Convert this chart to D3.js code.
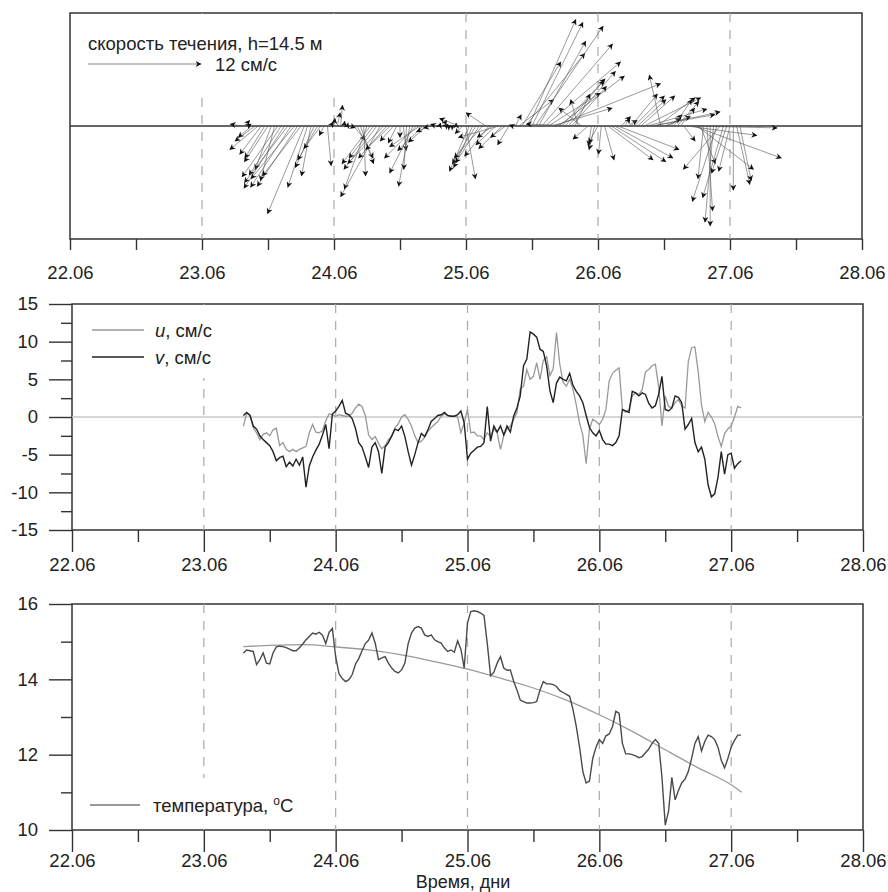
<!DOCTYPE html>
<html>
<head>
<meta charset="utf-8">
<script src="https://cdn.jsdelivr.net/npm/d3@7"></script>
<style>
  body { margin: 0; background: #fff; }
  svg { display: block; font-family: "Liberation Sans", Arial, sans-serif; }
</style>
</head>
<body>
<svg id="chart" width="888" height="892"></svg>
<script>
// --- data: current meter record, one sample every 0.025 day (36 min) ---
const T_START = 23.3;   // 23.06, 07:12
const T_STEP = 0.025;

// u component, cm/s
const uVals = [
  -1.2, 0.5, 0.3, -1.4, -2.1, -3.0, -2.3, -2.1, -2.5, -1.7,
  -1.5, -3.8, -3.4, -4.3, -4.6, -4.3, -4.6, -4.3, -4.1, -3.9,
  -2.1, -1.0, -2.0, -2.1, -1.8, -0.5, 0.4, 0.3, 0.1, 0.3,
  0.2, 0.1, 0.1, 0.5, 1.2, 1.7, 1.4, 0.2, -2.4, -3.0,
  -2.6, -3.5, -4.2, -3.8, -3.0, -2.6, -1.4, -0.9, 0.0, 0.3,
  -0.3, -1.2, -2.5, -3.4, -3.2, -2.7, -1.9, -1.4, -1.0, -0.6,
  0.1, 0.4, 0.2, 0.1, 0.1, 0.0, -2.1, -0.8, 1.0, -2.1,
  -2.0, -2.5, -2.5, -3.0, -2.1, -2.6, -1.6, -2.1, -4.3, -2.5,
  -1.6, -1.2, -0.3, 0.6, 3.7, 4.1, 6.3, 5.0, 5.4, 7.2,
  5.0, 7.5, 8.0, 5.5, 6.4, 11.2, 7.0, 4.6, 4.1, 5.0,
  3.7, 1.6, -0.8, -2.4, -6.2, -1.6, -0.3, -0.6, -1.0, -0.3,
  1.0, 4.8, 5.8, 6.2, 6.5, 1.0, 0.6, 1.0, 2.8, 3.2,
  3.0, 3.6, 6.0, 6.3, 6.8, 7.0, 4.0, -1.2, 2.8, 1.4,
  1.2, 1.9, 2.3, 1.5, 1.2, 7.4, 9.2, 9.3, 6.0, 1.6,
  -0.6, 0.6, 0.0, -0.9, -2.6, -3.9, -2.2, -1.6, -1.2, 0.0,
  1.4, 1.2
];

// v component, cm/s
const vVals = [
  0.2, 0.6, 0.2, -1.2, -1.6, -2.5, -3.0, -3.4, -3.8, -4.6,
  -5.8, -5.4, -5.2, -6.6, -6.0, -6.5, -5.6, -6.4, -5.3, -9.3,
  -6.5, -5.3, -4.4, -3.6, -2.4, -1.0, -4.2, 0.4, 0.8, 1.4,
  2.2, 0.5, 0.3, -0.2, -1.5, -3.4, -4.0, -5.3, -6.7, -4.0,
  -3.4, -4.6, -7.5, -4.0, -3.4, -2.5, -1.6, -1.8, -1.2, -2.6,
  -4.6, -6.4, -5.0, -3.4, -2.2, -2.6, -1.7, -0.6, -0.2, 0.2,
  0.3, 0.6, 0.2, 0.1, 0.1, 0.3, 0.8, -0.8, -5.6, -4.8,
  -4.4, -4.0, -3.9, -3.4, 1.4, -3.2, -1.2, -2.0, -1.2, -2.4,
  -1.2, -2.0, 0.1, 1.2, 2.8, 6.8, 7.7, 11.3, 11.0, 10.6,
  9.0, 8.7, 6.8, 3.5, 1.9, 4.5, 5.3, 5.0, 4.8, 5.8,
  4.2, 3.4, 2.8, 1.9, 0.2, -1.4, -2.1, -2.5, -1.8, -3.0,
  -3.6, -3.6, -3.8, -3.4, -2.5, 1.0, 0.8, 0.6, 3.4, 3.2,
  2.8, 3.2, 3.0, 1.8, 1.2, 1.5, 3.0, 5.4, 1.0, 0.8,
  1.2, 2.8, 2.6, 1.9, -1.6, -1.0, -0.2, -3.4, -4.6, -4.0,
  -5.6, -9.0, -10.6, -10.2, -8.0, -4.6, -7.6, -5.0, -4.8, -6.8,
  -6.2, -5.8
];

// water temperature, deg C
const tempVals = [
  14.7, 14.78, 14.76, 14.74, 14.39, 14.52, 14.7, 14.43, 14.41, 14.7,
  14.86, 14.88, 14.87, 14.84, 14.8, 14.76, 14.76, 14.84, 14.94, 15.05,
  15.14, 15.23, 15.2, 15.25, 15.17, 14.95, 15.25, 15.35, 14.6, 14.15,
  14.02, 13.94, 13.99, 14.12, 14.4, 14.55, 14.76, 14.95, 15.04, 15.23,
  14.96, 14.52, 14.57, 14.6, 14.43, 14.3, 14.21, 14.17, 14.25, 14.43,
  14.95, 15.23, 15.36, 15.4, 15.36, 15.18, 15.14, 15.18, 15.05, 15.0,
  14.96, 14.83, 14.74, 14.78, 14.72, 15.02, 14.8, 14.3, 15.5, 15.8,
  15.82, 15.8, 15.76, 15.7, 14.95, 14.1, 14.19, 14.43, 14.6, 14.3,
  14.24, 14.25, 13.95, 13.72, 13.45, 13.41, 13.37, 13.37, 13.38, 13.41,
  13.72, 13.94, 13.88, 13.88, 13.86, 13.81, 13.7, 13.65, 13.6, 13.55,
  13.2, 12.75, 12.2, 11.55, 11.25, 11.3, 11.9, 12.2, 12.4, 12.3,
  12.5, 12.55, 12.75, 13.15, 13.1, 12.3, 12.02, 12.02, 12.0, 11.97,
  11.92, 11.95, 12.05, 12.15, 12.3, 12.4, 12.3, 11.4, 10.13, 10.5,
  11.4, 10.8, 11.05, 11.25, 11.35, 11.55, 11.9, 12.3, 12.48, 12.1,
  12.35, 12.52, 12.48, 12.4, 12.2, 11.85, 11.65, 11.9, 12.2, 12.38,
  12.52, 12.52
];

// smooth trend of temperature
const trendDays = [23.3, 23.5, 23.75, 24.0, 24.25, 24.5, 24.75, 25.0, 25.25, 25.5, 25.75, 26.0, 26.25, 26.5, 26.75, 27.0, 27.08];
const trendVals = [14.87, 14.9, 14.92, 14.86, 14.78, 14.65, 14.47, 14.27, 14.03, 13.77, 13.45, 13.06, 12.62, 12.13, 11.65, 11.2, 11.0];

// axes
const dayTicks = [22, 23, 24, 25, 26, 27, 28];
const halfDayTicks = [22.5, 23.5, 24.5, 25.5, 26.5, 27.5];
const dashedDays = [23, 24, 25, 26, 27];
const uvTicks = [-15, -10, -5, 0, 5, 10, 15];
const uvMinorTicks = [-12.5, -7.5, -2.5, 2.5, 7.5, 12.5];
const tempTicks = [10, 12, 14, 16];
const tempMinorTicks = [11, 13, 15];
const REF_SPEED = 12; // cm/s, legend arrow

const days = uVals.map((_, i) => T_START + i * T_STEP);

const svg = d3.select("#chart");
const FONT = 18.5;
const frameColor = "#333";

const defs = svg.append("defs");
defs.append("marker")
  .attr("id", "head")
  .attr("viewBox", "0 0 10 10")
  .attr("refX", 9).attr("refY", 5)
  .attr("markerWidth", 7).attr("markerHeight", 6)
  .attr("markerUnits", "userSpaceOnUse")
  .attr("orient", "auto")
  .append("path")
  .attr("d", "M0,0 L10,5 L0,10 L3,5 z")
  .attr("fill", "#111");

// --- helpers ---
function frame(x, y) {
  const [x0, x1] = x.range();
  const [y1, y0] = y.range();
  svg.append("rect")
    .attr("x", x0).attr("y", y0)
    .attr("width", x1 - x0).attr("height", y1 - y0)
    .attr("fill", "none")
    .attr("stroke", frameColor)
    .attr("stroke-width", 1.5);
}

function dashed(x, y) {
  const [y1, y0] = y.range();
  svg.append("g").selectAll("line")
    .data(dashedDays)
    .join("line")
    .attr("x1", d => x(d)).attr("x2", d => x(d))
    .attr("y1", y0).attr("y2", y1)
    .attr("stroke", "#aaa")
    .attr("stroke-width", 1.2)
    .attr("stroke-dasharray", "9,8");
}

function styleAxis(g) {
  g.select(".domain").remove();
  g.selectAll(".tick line").attr("stroke", frameColor).attr("stroke-width", 1.4);
  g.selectAll("text")
    .attr("fill", "#222")
    .attr("font-size", FONT)
    .attr("font-family", "'Liberation Sans', Arial, sans-serif");
}

function xAxis(x, yPos, majorLen, minorLen, pad) {
  svg.append("g")
    .attr("transform", `translate(0,${yPos})`)
    .call(d3.axisBottom(x).tickValues(halfDayTicks).tickSize(minorLen).tickFormat(""))
    .call(styleAxis);
  svg.append("g")
    .attr("transform", `translate(0,${yPos})`)
    .call(d3.axisBottom(x).tickValues(dayTicks).tickSize(majorLen).tickPadding(pad)
      .tickFormat(d => d + ".06"))
    .call(styleAxis);
}

function yAxis(y, xPos, major, minor) {
  svg.append("g")
    .attr("transform", `translate(${xPos},0)`)
    .call(d3.axisLeft(y).tickValues(minor).tickSize(11).tickFormat(""))
    .call(styleAxis);
  svg.append("g")
    .attr("transform", `translate(${xPos},0)`)
    .call(d3.axisLeft(y).tickValues(major).tickSize(23).tickPadding(11)
      .tickFormat(d => String(d)))   // plain hyphen, no decimals
    .call(styleAxis);
}

function whiteBox(x, y, w, h) {
  svg.append("rect")
    .attr("x", x).attr("y", y).attr("width", w).attr("height", h)
    .attr("fill", "#fff");
}

// ---- PANEL 1: stick plot ----
const xTop = d3.scaleLinear().domain([22, 28]).range([70, 862]);
const yTop = d3.scaleLinear().domain([-1, 1]).range([239, 13]);
const vec = d3.scaleLinear().domain([0, REF_SPEED]).range([0, 113]);
const y0Top = yTop(0);

frame(xTop, yTop);
dashed(xTop, yTop);
whiteBox(71, 14, 274, 76);

svg.append("line")
  .attr("x1", xTop.range()[0]).attr("x2", xTop.range()[1])
  .attr("y1", y0Top).attr("y2", y0Top)
  .attr("stroke", frameColor)
  .attr("stroke-width", 1.5);

const sticks = days.map((t, i) => ({ t, u: uVals[i], v: vVals[i] }));

svg.append("g").selectAll("line")
  .data(sticks)
  .join("line")
  .attr("x1", d => xTop(d.t))
  .attr("y1", y0Top)
  .attr("x2", d => xTop(d.t) + vec(d.u))
  .attr("y2", d => y0Top - vec(d.v))
  .attr("stroke", "#555")
  .attr("stroke-width", 0.6)
  .attr("marker-end", "url(#head)");

xAxis(xTop, 239, 11, 11, 16);

svg.append("text")
  .attr("x", 88).attr("y", 49.5)
  .attr("font-size", FONT).attr("fill", "#222")
  .text("скорость течения, h=14.5 м");
svg.append("line")
  .attr("x1", 88).attr("x2", 88 + vec(REF_SPEED))
  .attr("y1", 64).attr("y2", 64)
  .attr("stroke", "#666").attr("stroke-width", 0.8)
  .attr("marker-end", "url(#head)");
svg.append("text")
  .attr("x", 215).attr("y", 70.5)
  .attr("font-size", FONT).attr("fill", "#222")
  .text(REF_SPEED + " см/с");

// ---- PANEL 2: u, v ----
const xMid = d3.scaleLinear().domain([22, 28]).range([72, 863]);
const yMid = d3.scaleLinear().domain([-15, 15]).range([530, 304]);

frame(xMid, yMid);
dashed(xMid, yMid);
whiteBox(73, 305, 172, 73);

svg.append("line")
  .attr("x1", xMid.range()[0]).attr("x2", xMid.range()[1])
  .attr("y1", yMid(0)).attr("y2", yMid(0))
  .attr("stroke", "#c8c8c8").attr("stroke-width", 1.3);

const uLine = d3.line().x((d, i) => xMid(days[i])).y(d => yMid(d));

svg.append("path")
  .datum(uVals)
  .attr("d", uLine)
  .attr("fill", "none")
  .attr("stroke", "#999")
  .attr("stroke-width", 1.3);

svg.append("path")
  .datum(vVals)
  .attr("d", uLine)
  .attr("fill", "none")
  .attr("stroke", "#222")
  .attr("stroke-width", 1.4);

xAxis(xMid, 530, 22, 12, 6);
yAxis(yMid, 72, uvTicks, uvMinorTicks);

const uvLegend = [
  { name: "u", color: "#999", y: 330 },
  { name: "v", color: "#222", y: 357 }
];
uvLegend.forEach(d => {
  svg.append("line")
    .attr("x1", 92).attr("x2", 144)
    .attr("y1", d.y).attr("y2", d.y)
    .attr("stroke", d.color).attr("stroke-width", 1.4);
  const t = svg.append("text")
    .attr("x", 155).attr("y", d.y + 6.5)
    .attr("font-size", FONT).attr("fill", "#222");
  t.append("tspan").attr("font-style", "italic").text(d.name);
  t.append("tspan").text(", см/с");
});

// ---- PANEL 3: temperature ----
const xBot = d3.scaleLinear().domain([22, 28]).range([72, 863]);
const yBot = d3.scaleLinear().domain([10, 16]).range([830, 604]);

frame(xBot, yBot);
dashed(xBot, yBot);
whiteBox(73, 778, 247, 51);

svg.append("path")
  .datum(trendVals)
  .attr("d", d3.line().curve(d3.curveMonotoneX)
    .x((d, i) => xBot(trendDays[i])).y(d => yBot(d)))
  .attr("fill", "none")
  .attr("stroke", "#9a9a9a")
  .attr("stroke-width", 1.3);

svg.append("path")
  .datum(tempVals)
  .attr("d", d3.line().x((d, i) => xBot(days[i])).y(d => yBot(d)))
  .attr("fill", "none")
  .attr("stroke", "#4a4a4a")
  .attr("stroke-width", 1.4);

xAxis(xBot, 830, 22, 12, 2);
yAxis(yBot, 72, tempTicks, tempMinorTicks);

svg.append("line")
  .attr("x1", 90).attr("x2", 140)
  .attr("y1", 805).attr("y2", 805)
  .attr("stroke", "#777").attr("stroke-width", 1.4);
const tLab = svg.append("text")
  .attr("x", 153).attr("y", 811.5)
  .attr("font-size", FONT).attr("fill", "#222");
tLab.append("tspan").text("температура, ");
tLab.append("tspan").attr("font-size", 12).attr("dy", -7).text("o");
tLab.append("tspan").attr("dy", 7).text("C");

svg.append("text")
  .attr("x", 463).attr("y", 888)
  .attr("text-anchor", "middle")
  .attr("font-size", 18).attr("fill", "#222")
  .text("Время, дни");
</script>
</body>
</html>
